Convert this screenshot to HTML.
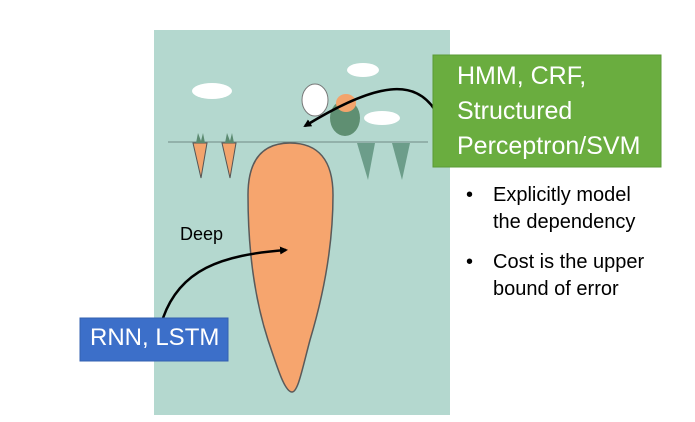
<!DOCTYPE html>
<html><head><style>
body{margin:0;width:695px;height:422px;background:#fff;position:relative;overflow:hidden;font-family:"Liberation Sans",sans-serif}
.t{position:absolute;white-space:nowrap}
</style></head><body>
<svg width="695" height="422" style="position:absolute;left:0;top:0">
<rect x="154" y="30" width="296" height="385" fill="#b4d8cf"/>
<ellipse cx="212" cy="91" rx="20" ry="8" fill="#fff"/>
<ellipse cx="363" cy="70" rx="16" ry="7" fill="#fff"/>
<ellipse cx="382" cy="118" rx="18" ry="7" fill="#fff"/>
<line x1="168" y1="142" x2="428" y2="142" stroke="#6f8a84" stroke-width="1"/>
<path d="M193 143 L207 143 L201 178 Z" fill="#f3a46c" stroke="#555" stroke-width="1"/>
<path d="M222 143 L236 143 L230 178 Z" fill="#f3a46c" stroke="#555" stroke-width="1"/>
<path d="M196 143 l2 -10 l3 8 l2 -8 l2 10Z M225 143 l2 -10 l3 8 l2 -8 l2 10Z" fill="#5b8a70"/>
<path d="M357 143 L375 143 L368 180 Z" fill="#6c9d8a"/>
<path d="M392 143 L410 143 L402 180 Z" fill="#6c9d8a"/>
<ellipse cx="315" cy="100" rx="13" ry="16" fill="#fff" stroke="#777"/>
<ellipse cx="345" cy="118" rx="15" ry="18" fill="#5f8f72"/>
<ellipse cx="346" cy="103" rx="10" ry="9" fill="#f3a46c"/>
<path d="M290 143 C262 143 248 160 248 195 C248 250 255 300 268 340 C278 370 285 392 292 392 C298 392 302 370 310 340 C322 300 333 250 333 195 C333 160 318 143 290 143 Z" fill="#f6a56e" stroke="#5a5a5a" stroke-width="1.5"/>
<defs><marker id="a" markerWidth="8" markerHeight="8" refX="6" refY="4" orient="auto" markerUnits="userSpaceOnUse"><path d="M0 0 L8 4 L0 8 Z" fill="#000"/></marker></defs>
<path d="M435 110 C415 80 380 80 305 126" fill="none" stroke="#000" stroke-width="2.5" marker-end="url(#a)"/>
<path d="M163 318 C180 270 220 255 286 250" fill="none" stroke="#000" stroke-width="2.5" marker-end="url(#a)"/>
<rect x="433" y="55" width="228" height="112" fill="#6aad3f" stroke="#5a9a34"/>
<rect x="80" y="318" width="148" height="43" fill="#3c6fc9" stroke="#3360b0"/>
</svg>
<div class="t" style="left:457px;top:59px;font-size:25px;line-height:35px;color:#fff">HMM, CRF,<br>Structured<br>Perceptron/SVM</div>
<div class="t" style="left:90px;top:324px;font-size:24px;color:#fff">RNN, LSTM</div>
<div class="t" style="left:180px;top:224px;font-size:18px;color:#000">Deep</div>
<div class="t" style="left:466px;top:182px;font-size:20px;line-height:27px;color:#000">•</div>
<div class="t" style="left:493px;top:182px;font-size:20px;line-height:27px;color:#000">Explicitly model<br>the dependency</div>
<div class="t" style="left:466px;top:249px;font-size:20px;line-height:27px;color:#000">•</div>
<div class="t" style="left:493px;top:249px;font-size:20px;line-height:27px;color:#000">Cost is the upper<br>bound of error</div>
</body></html>
